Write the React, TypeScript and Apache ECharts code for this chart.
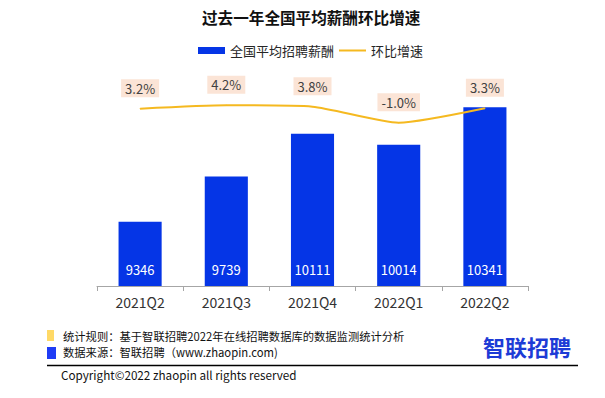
import React, { useEffect, useRef } from "react";
import * as echarts from "echarts";

const categories = ["2021Q2", "2021Q3", "2021Q4", "2022Q1", "2022Q2"];
const salaryValues = [9346, 9739, 10111, 10014, 10341];
const growthValues = [3.2, 4.2, 3.8, -1.0, 3.3];
const seriesNames = ["全国平均招聘薪酬", "环比增速"];
const titleText = "过去一年全国平均薪酬环比增速";
const noteRule = "统计规则：基于智联招聘2022年在线招聘数据库的数据监测统计分析";
const noteSource = "数据来源：智联招聘（www.zhaopin.com)";
const copyrightText = "Copyright©2022 zhaopin all rights reserved";
const logoText = "智联招聘";

const FONT = "'Noto Sans CJK SC', 'Noto Sans', sans-serif";

export default function App() {
  const ref = useRef<HTMLDivElement>(null);
  useEffect(() => {
    if (!ref.current) return;
    const chart = echarts.init(ref.current, null, { renderer: "svg" });
    chart.setOption({
      animation: false,
      backgroundColor: "#ffffff",
      textStyle: { fontFamily: FONT },
      title: {
        text: titleText,
        left: 197,
        top: 4,
        textStyle: { fontSize: 15.6, fontWeight: "bold", color: "#111111", fontFamily: FONT },
      },
      legend: {
        left: 193,
        top: 39,
        itemWidth: 27,
        itemHeight: 7,
        itemGap: 5,
        textStyle: { fontSize: 13, color: "#262626", fontFamily: FONT },
        data: [
          { name: seriesNames[0], icon: "rect" },
          { name: seriesNames[1], icon: "path://M0 0H54V4H0Z" },
        ],
      },
      grid: { left: 97, right: 77, top: 80, bottom: 112, containLabel: false },
      xAxis: {
        type: "category",
        data: categories,
        axisLine: { onZero: false, lineStyle: { color: "#a6a6a6", width: 1 } },
        axisTick: { show: true, length: 5, lineStyle: { color: "#a6a6a6" } },
        axisLabel: { fontSize: 14, color: "#333333", margin: 9, fontFamily: FONT },
      },
      yAxis: [
        { type: "value", min: 8787, max: 10578, show: false, splitLine: { show: false } },
        { type: "value", min: -49.8, max: 11.76, show: false, splitLine: { show: false } },
      ],
      series: [
        {
          name: seriesNames[0],
          type: "bar",
          data: salaryValues,
          barWidth: "50%",
          itemStyle: { color: "#0535E6" },
          label: {
            show: true,
            position: "insideBottom",
            distance: 10,
            color: "#ffffff",
            fontSize: 13,
            fontFamily: FONT,
          },
        },
        {
          name: seriesNames[1],
          type: "line",
          yAxisIndex: 1,
          data: growthValues,
          smooth: 0.2,
          symbol: "circle",
          symbolSize: 1,
          showSymbol: true,
          lineStyle: { color: "#F5B920", width: 2 },
          itemStyle: { color: "#F5B920" },
          label: {
            show: true,
            position: "top",
            distance: 11,
            formatter: (p: any) => `${Number(p.value).toFixed(1)}%`,
            color: "#404040",
            fontSize: 13,
            lineHeight: 14,
            backgroundColor: "#FBE4D6",
            padding: [2, 4],
            fontFamily: FONT,
          },
        },
      ],
      graphic: [
        { type: "rect", shape: { x: 47, y: 330, width: 7, height: 11 }, style: { fill: "#FFD966" } },
        { type: "rect", shape: { x: 47, y: 347, width: 9, height: 12 }, style: { fill: "#1F3CF5" } },
        {
          type: "text",
          x: 63,
          y: 336,
          style: { text: noteRule, fontSize: 11.3, fill: "#111111", verticalAlign: "middle", fontFamily: FONT },
        },
        {
          type: "text",
          x: 63,
          y: 352,
          style: { text: noteSource, fontSize: 11.3, fill: "#111111", verticalAlign: "middle", fontFamily: FONT },
        },
        {
          type: "line",
          shape: { x1: 47, y1: 365.5, x2: 578, y2: 365.5 },
          style: { stroke: "#000000", lineWidth: 1.3 },
        },
        {
          type: "text",
          x: 61,
          y: 374,
          style: { text: copyrightText, fontSize: 11.7, fill: "#111111", verticalAlign: "middle", fontFamily: FONT },
        },
        {
          type: "text",
          x: 483,
          y: 346,
          style: {
            text: logoText,
            fontSize: 22,
            fontWeight: "bold",
            fill: "#1D3BD6",
            verticalAlign: "middle",
            fontFamily: FONT,
          },
        },
      ],
    });
    return () => chart.dispose();
  }, []);
  return (
    <div
      ref={ref}
      style={{ position: "absolute", left: 0, top: 0, width: 605, height: 398 }}
    />
  );
}
